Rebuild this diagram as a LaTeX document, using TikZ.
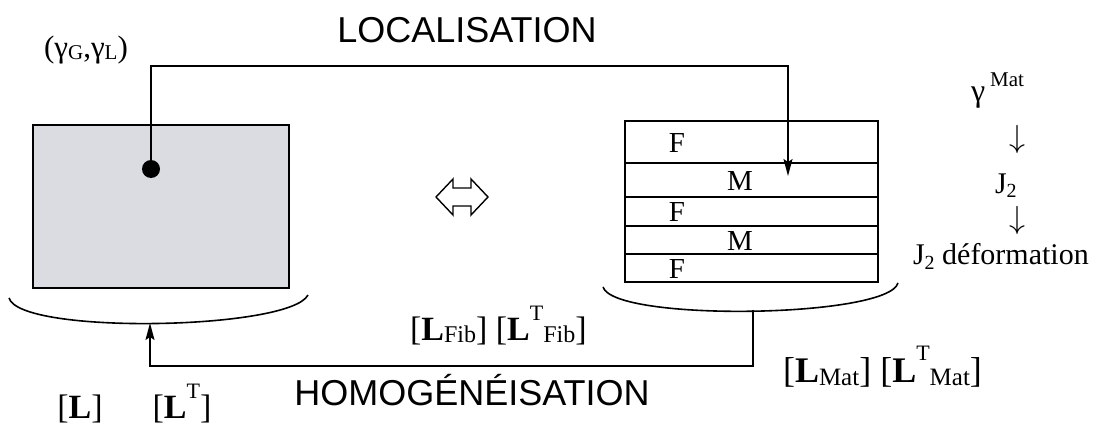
\documentclass[tikz,border=0pt]{standalone}
\usepackage{fontspec}
\setmainfont{Liberation Serif}
\setsansfont{Liberation Sans}
\usetikzlibrary{arrows.meta,calc}
\newcommand{\fs}[1]{\fontsize{#1}{#1}\selectfont}
\newcommand{\dn}[3]{\raisebox{-#1}{\fs{#2}#3}}
\newcommand{\up}[3]{\raisebox{#1}{\fs{#2}#3}}
\definecolor{boxgray}{RGB}{219,219,226}
\begin{document}
\begin{tikzpicture}[x=1pt,y=-1pt,line width=1.6pt,
  arr/.style={-{Stealth[length=17pt,width=9pt,inset=3pt]}},
  txt/.style={inner sep=0pt,outer sep=0pt},
  sanslbl/.style={txt,font=\sffamily\fs{36}},
  layer/.style={txt,font=\fs{29}},
  panel/.style={draw,inner sep=0pt,outer sep=0pt,line width=2pt}]
\useasboundingbox (0,0) rectangle (1118,425);

% homogeneous box
\node[panel,fill=boxgray,minimum width=256pt,minimum height=163pt] (hom) at (161,206.5) {};
\node[circle,fill=black,minimum size=18pt,inner sep=0pt] (pt) at (151,169) {};

% layered box
\node[panel,minimum width=253pt,minimum height=161pt] (lam) at (751.5,201.5) {};
\foreach \yy in {163,197,226,254}
  \draw[line width=1.8pt] (625,\yy) -- (878,\yy);
\node[layer] (f1) at (677,143) {F};
\node[layer] (m1) at (740,181) {M};
\node[layer] (f2) at (677,212) {F};
\node[layer] (m2) at (740,241) {M};
\node[layer] (f3) at (677,269) {F};

% braces
\draw (9,298) .. controls (20,335) and (290,330) .. (308,295);
\draw (603,287) .. controls (614,322) and (888,318) .. (898,283);
\coordinate (lbr) at (150,323);
\coordinate (rbr) at (753,310);
\coordinate (loctip) at (788,176);
\coordinate (topy) at (0,66);
\coordinate (boty) at (0,366);

% connectors
\draw[arr] (pt.center) -- (pt.center |- topy) -| (loctip);
\draw[arr] (rbr) -- (rbr |- boty) -| (lbr);

% double arrow
\coordinate (eq) at (462,197);
\draw[line width=1.4pt,shift={(eq)}] (-26,0) -- (-9,-18) -- (-9,-9) -- (9,-9) -- (9,-18) -- (26,0)
  -- (9,18) -- (9,9) -- (-9,9) -- (-9,18) -- cycle;

% titles
\node[sanslbl,anchor=base] (loc) at (467,43) {LOCALISATION};
\node[sanslbl,anchor=base] (homog) at (472,405) {HOMOGÉNÉISATION};

% labels
\node[txt,anchor=base,font=\fs{31}] (gam) at (86,58) {(γ\dn{2pt}{21}{G},γ\dn{2pt}{21}{L})};
\node[txt,anchor=base west,font=\fs{32}] (gmat) at (971,102) {γ\hspace{5pt}\up{15pt}{21}{Mat}};
\node[txt] (d1) at (1017,139) {\scalebox{3.2}{$\downarrow$}};
\node[txt,anchor=base west,font=\fs{30}] (j2) at (995,193) {J\dn{4pt}{20}{2}};
\node[txt] (d2) at (1017,220) {\scalebox{3.2}{$\downarrow$}};
\node[txt,anchor=base west,font=\fs{30}] (j2d) at (913,264) {J\dn{5pt}{20}{2} déformation};

\node[txt,anchor=base west,font=\fs{34}] (lfib) at (410,340)
  {[\textbf{L}\dn{2pt}{24}{Fib}] [\textbf{L}\up{20pt}{22}{T}\dn{2pt}{24}{Fib}]};
\node[txt,anchor=base west,font=\fs{36}] (lmat) at (783,382)
  {[\textbf{L}\dn{3pt}{25}{Mat}] [\textbf{L}\up{22pt}{22}{T}\dn{3pt}{25}{Mat}]};
\node[txt,anchor=base,font=\fs{34}] (ll) at (80,418) {[\textbf{L}]};
\node[txt,anchor=base,font=\fs{34}] (llt) at (182,418) {[\textbf{L}\up{20pt}{22}{T}]};
\end{tikzpicture}
\end{document}
